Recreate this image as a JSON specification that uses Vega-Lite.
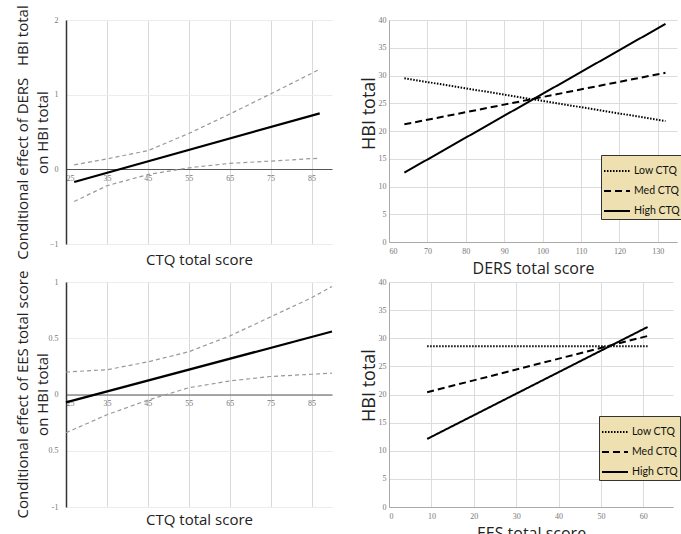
{
  "$schema": "https://vega.github.io/schema/vega-lite/v6.json",
  "padding": {"left": 14, "top": 4, "right": 2, "bottom": 0},
  "background": "white",
  "config": {
    "view": {"stroke": null},
    "axis": {
      "labelFont": "Liberation Serif",
      "labelFontSize": 8,
      "labelColor": "#777",
      "titleFont": "Open Sans",
      "titleFontWeight": "normal",
      "titleColor": "#222",
      "ticks": false,
      "gridColor": "#dcdcdc",
      "domainColor": "#aaa"
    },
    "legend": {
      "orient": "none",
      "title": null,
      "fillColor": "#EEE0B0",
      "strokeColor": "#333",
      "padding": 2,
      "symbolType": "stroke",
      "symbolSize": 676,
      "symbolStrokeWidth": 2,
      "symbolStrokeColor": "black",
      "labelFont": "Lato",
      "labelFontSize": 10.5,
      "labelColor": "#111",
      "rowPadding": -12,
      "labelOffset": 3
    }
  },
  "datasets": {
    "tl": [
      {"ctq": 27, "effect": -0.17, "series": "est"},
      {"ctq": 87, "effect": 0.75, "series": "est"},
      {"ctq": 27, "effect": 0.06, "series": "hi"},
      {"ctq": 35, "effect": 0.14, "series": "hi"},
      {"ctq": 45, "effect": 0.25, "series": "hi"},
      {"ctq": 55, "effect": 0.48, "series": "hi"},
      {"ctq": 65, "effect": 0.74, "series": "hi"},
      {"ctq": 75, "effect": 1.01, "series": "hi"},
      {"ctq": 87, "effect": 1.34, "series": "hi"},
      {"ctq": 27, "effect": -0.43, "series": "lo"},
      {"ctq": 35, "effect": -0.22, "series": "lo"},
      {"ctq": 45, "effect": -0.07, "series": "lo"},
      {"ctq": 55, "effect": 0.02, "series": "lo"},
      {"ctq": 65, "effect": 0.08, "series": "lo"},
      {"ctq": 75, "effect": 0.11, "series": "lo"},
      {"ctq": 87, "effect": 0.15, "series": "lo"}
    ],
    "bl": [
      {"ctq": 25, "effect": -0.07, "series": "est"},
      {"ctq": 90, "effect": 0.56, "series": "est"},
      {"ctq": 25, "effect": 0.20, "series": "hi"},
      {"ctq": 35, "effect": 0.22, "series": "hi"},
      {"ctq": 45, "effect": 0.29, "series": "hi"},
      {"ctq": 55, "effect": 0.38, "series": "hi"},
      {"ctq": 65, "effect": 0.52, "series": "hi"},
      {"ctq": 75, "effect": 0.69, "series": "hi"},
      {"ctq": 85, "effect": 0.86, "series": "hi"},
      {"ctq": 90, "effect": 0.96, "series": "hi"},
      {"ctq": 25, "effect": -0.34, "series": "lo"},
      {"ctq": 35, "effect": -0.18, "series": "lo"},
      {"ctq": 45, "effect": -0.05, "series": "lo"},
      {"ctq": 55, "effect": 0.06, "series": "lo"},
      {"ctq": 65, "effect": 0.12, "series": "lo"},
      {"ctq": 75, "effect": 0.16, "series": "lo"},
      {"ctq": 85, "effect": 0.18, "series": "lo"},
      {"ctq": 90, "effect": 0.19, "series": "lo"}
    ],
    "tr": [
      {"group": "Low CTQ", "ders": 64, "hbi": 29.5},
      {"group": "Low CTQ", "ders": 132, "hbi": 21.8},
      {"group": "Med CTQ", "ders": 64, "hbi": 21.2},
      {"group": "Med CTQ", "ders": 132, "hbi": 30.5},
      {"group": "High CTQ", "ders": 64, "hbi": 12.5},
      {"group": "High CTQ", "ders": 132, "hbi": 39.3}
    ],
    "br": [
      {"group": "Low CTQ", "ees": 9, "hbi": 28.6},
      {"group": "Low CTQ", "ees": 61, "hbi": 28.6},
      {"group": "Med CTQ", "ees": 9, "hbi": 20.4},
      {"group": "Med CTQ", "ees": 61, "hbi": 30.4},
      {"group": "High CTQ", "ees": 9, "hbi": 12.1},
      {"group": "High CTQ", "ees": 61, "hbi": 32.0}
    ]
  },
  "bounds": "flush",
  "align": "all",
  "columns": 2,
  "spacing": {"column": 35, "row": 37},
  "resolve": {"scale": {"strokeDash": "independent"}, "legend": {"strokeDash": "independent"}},
  "concat": [
    {
      "width": 266,
      "height": 224,
      "data": {"name": "tl"},
      "encoding": {
        "x": {"field": "ctq", "type": "quantitative",
          "scale": {"domain": [25, 90], "nice": false, "zero": false},
          "axis": {"values": [25, 35, 45, 55, 65, 75, 85], "offset": -75, "domainColor": "#555", "labelPadding": 5,
            "title": "CTQ total score", "titleFontSize": 15, "titleY": 83, "titleBaseline": "top", "grid": true, "gridColor": "#d8d8d8"}},
        "y": {"field": "effect", "type": "quantitative",
          "scale": {"domain": [-1, 2], "nice": false, "zero": false},
          "axis": {"values": [-1, 0, 1, 2], "domainColor": "#333", "domainWidth": 1.5, "labelPadding": 8,
            "title": ["Conditional effect of DERS\u00a0\u00a0\u00a0HBI total", "on HBI total"], "titleFontSize": 15, "titleLineHeight": 20,
            "titleX": -36, "titleY": 112, "titleAlign": "center", "titleBaseline": "bottom", "grid": true, "gridColor": "#ececec"}}
      },
      "layer": [
        {"transform": [{"filter": "datum.series != 'est'"}],
          "mark": {"type": "line", "color": "#999", "strokeWidth": 1.2, "strokeDash": [4, 3]},
          "encoding": {"detail": {"field": "series"}}},
        {"transform": [{"filter": "datum.series == 'est'"}],
          "mark": {"type": "line", "color": "black", "strokeWidth": 2.2},
          "encoding": {}}
      ]
    },
    {
      "width": 288,
      "height": 222,
      "data": {"name": "tr"},
      "mark": {"type": "line", "color": "black", "strokeWidth": 2},
      "encoding": {
        "x": {"field": "ders", "type": "quantitative",
          "scale": {"domain": [60, 135], "nice": false, "zero": false},
          "axis": {"values": [60, 70, 80, 90, 100, 110, 120, 130], "title": "DERS total score", "titleFontSize": 16,
            "labelPadding": 5, "titlePadding": 5, "grid": true}},
        "y": {"field": "hbi", "type": "quantitative",
          "scale": {"domain": [0, 40], "nice": false},
          "axis": {"values": [0, 5, 10, 15, 20, 25, 30, 35, 40], "title": "HBI total", "titleFontSize": 18,
            "labelPadding": 3, "titlePadding": 0, "titleY": 93, "grid": true}},
        "strokeDash": {"field": "group", "type": "nominal",
          "scale": {"domain": ["Low CTQ", "Med CTQ", "High CTQ"], "range": [[1.5, 1.5], [7, 4], [1, 0]]},
          "legend": {"legendX": 212, "legendY": 135}}
      }
    },
    {
      "width": 266,
      "height": 225,
      "data": {"name": "bl"},
      "encoding": {
        "x": {"field": "ctq", "type": "quantitative",
          "scale": {"domain": [25, 90], "nice": false, "zero": false},
          "axis": {"values": [25, 35, 45, 55, 65, 75, 85], "offset": -112.5, "domainColor": "#555", "labelPadding": 5,
            "title": "CTQ total score", "titleFontSize": 15, "titleY": 118, "titleBaseline": "top", "grid": true, "gridColor": "#d8d8d8"}},
        "y": {"field": "effect", "type": "quantitative",
          "scale": {"domain": [-1, 1], "nice": false, "zero": false},
          "axis": {"values": [-1, -0.5, 0, 0.5, 1],
            "labelExpr": "datum.value == 1 ? '1' : datum.value == 0.5 ? '0.5' : datum.value == 0 ? '0' : datum.value == -0.5 ? '0.5' : '-1'",
            "domainColor": "#333", "domainWidth": 1.5, "labelPadding": 8,
            "title": ["Conditional effect of EES total score", "on HBI total"], "titleFontSize": 15, "titleLineHeight": 20,
            "titleX": -36, "titleY": 112, "titleAlign": "center", "titleBaseline": "bottom", "grid": true, "gridColor": "#ececec"}}
      },
      "layer": [
        {"transform": [{"filter": "datum.series != 'est'"}],
          "mark": {"type": "line", "color": "#999", "strokeWidth": 1.2, "strokeDash": [4, 3]},
          "encoding": {"detail": {"field": "series"}}},
        {"transform": [{"filter": "datum.series == 'est'"}],
          "mark": {"type": "line", "color": "black", "strokeWidth": 2.2},
          "encoding": {}}
      ]
    },
    {
      "width": 284,
      "height": 225,
      "data": {"name": "br"},
      "mark": {"type": "line", "color": "black", "strokeWidth": 2},
      "encoding": {
        "x": {"field": "ees", "type": "quantitative",
          "scale": {"domain": [0, 67], "nice": false, "zero": false},
          "axis": {"values": [0, 10, 20, 30, 40, 50, 60], "title": "EES total score", "titleFontSize": 16,
            "labelPadding": 5, "titlePadding": 5, "grid": true}},
        "y": {"field": "hbi", "type": "quantitative",
          "scale": {"domain": [0, 40], "nice": false},
          "axis": {"values": [0, 5, 10, 15, 20, 25, 30, 35, 40], "title": "HBI total", "titleFontSize": 18,
            "labelPadding": 3, "titlePadding": 0, "titleY": 103, "grid": true}},
        "strokeDash": {"field": "group", "type": "nominal",
          "scale": {"domain": ["Low CTQ", "Med CTQ", "High CTQ"], "range": [[1.5, 1.5], [7, 4], [1, 0]]},
          "legend": {"legendX": 210, "legendY": 134}}
      }
    }
  ]
}
